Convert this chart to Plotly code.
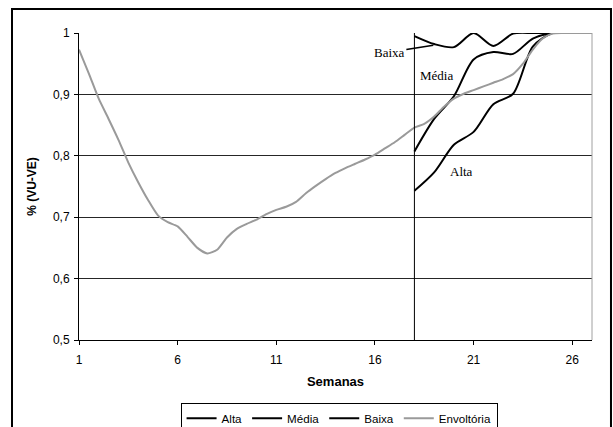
import plotly.graph_objects as go

# ---- data ----
env_weeks = [1.0, 1.5, 2.0, 2.5, 3.0, 3.5, 4.0, 4.5, 5.0, 5.5, 6.0, 6.5, 7.0, 7.5,
             8.0, 8.5, 9.0, 9.5, 10.0, 10.5, 11.0, 11.5, 12.0, 12.5, 13.0, 13.5,
             14.0, 14.5, 15.0, 15.5, 16.0, 16.5, 17.0, 17.5, 18.0, 18.5, 19.0,
             19.5, 20.0, 20.5, 21.0, 21.5, 22.0, 22.5, 23.0, 23.5, 24.0, 24.5,
             25.0, 25.5, 26.0, 26.5, 27.0]
envoltoria = [0.973, 0.934, 0.893, 0.860, 0.826, 0.789, 0.757, 0.728, 0.703, 0.692,
              0.685, 0.668, 0.650, 0.641, 0.647, 0.667, 0.681, 0.689, 0.696, 0.705,
              0.712, 0.717, 0.725, 0.739, 0.751, 0.762, 0.772, 0.780, 0.787, 0.794,
              0.802, 0.812, 0.822, 0.834, 0.846, 0.852, 0.864, 0.880, 0.893, 0.901,
              0.907, 0.913, 0.919, 0.925, 0.933, 0.950, 0.973, 0.991, 0.999, 1.0,
              1.0, 1.0, 1.0]

scen_weeks = [18, 19, 20, 21, 22, 23, 24, 25, 26, 27]
alta = [0.743, 0.773, 0.818, 0.839, 0.884, 0.901, 0.978, 1.0, 1.0, 1.0]
media = [0.807, 0.860, 0.897, 0.957, 0.969, 0.966, 0.991, 1.0, 1.0, 1.0]
baixa = [0.995, 0.982, 0.977, 1.0, 0.979, 0.999, 1.0, 1.0, 1.0, 1.0]

series_names = ["Alta", "Média", "Baixa", "Envoltória"]
x_ticks = [1, 6, 11, 16, 21, 26]
y_ticks = [0.5, 0.6, 0.7, 0.8, 0.9, 1.0]
y_ticktext = ["0,5", "0,6", "0,7", "0,8", "0,9", "1"]
split_week = 18

# ---- figure ----
fig = go.Figure()
black_line = dict(color="black", width=2, shape="spline", smoothing=0.8)
fig.add_trace(go.Scatter(x=scen_weeks, y=alta, mode="lines", name=series_names[0], line=black_line))
fig.add_trace(go.Scatter(x=scen_weeks, y=media, mode="lines", name=series_names[1], line=black_line))
fig.add_trace(go.Scatter(x=scen_weeks, y=baixa, mode="lines", name=series_names[2], line=black_line))
fig.add_trace(go.Scatter(x=env_weeks, y=envoltoria, mode="lines", name=series_names[3],
                         line=dict(color="#9a9a9a", width=2, shape="spline", smoothing=0.6)))

serif = "Liberation Serif"
fig.update_layout(
    width=613, height=427,
    margin=dict(l=79, r=21, t=33, b=87, autoexpand=False),
    paper_bgcolor="white", plot_bgcolor="white",
    font=dict(family="Liberation Sans", size=12, color="black"),
    showlegend=True,
    legend=dict(orientation="h", x=0.198, y=-0.204, xanchor="left", yanchor="top",
                bordercolor="black", borderwidth=1, font=dict(size=11.6),
                itemwidth=30, tracegroupgap=0),
    xaxis=dict(range=[1, 27], tickvals=x_ticks, ticks="outside", ticklen=4,
               tickcolor="black", showline=True, linecolor="black", linewidth=1,
               showgrid=False, zeroline=False, ticklabelstandoff=5,
               title=dict(text="<b>Semanas</b>", font=dict(size=13), standoff=10)),
    yaxis=dict(range=[0.5, 1.0], tickvals=y_ticks, ticktext=y_ticktext,
               ticks="outside", ticklen=4, tickcolor="black",
               showline=True, linecolor="black", linewidth=1,
               showgrid=True, gridcolor="#262626", gridwidth=1, zeroline=False,
               ticklabelstandoff=2,
               title=dict(text="<b>% (VU-VE)</b>", font=dict(size=12), standoff=13)),
    shapes=[
        dict(type="line", xref="x", yref="paper", x0=split_week, x1=split_week, y0=0, y1=1,
             line=dict(color="black", width=1)),
        dict(type="line", xref="paper", yref="paper", x0=1, x1=1, y0=0, y1=1,
             line=dict(color="#a0a0a0", width=1)),
        dict(type="rect", xref="paper", yref="paper", x0=-0.1306, x1=1.037, y0=-0.3, y1=1.078,
             line=dict(color="black", width=2)),
    ],
    annotations=[
        dict(x=18.96, y=0.980, xref="x", yref="y", text="Baixa", showarrow=True,
             arrowhead=0, arrowwidth=1.5, arrowcolor="black", ax=-44, ay=7, standoff=0,
             font=dict(family=serif, size=13)),
        dict(x=19.14, y=0.930, xref="x", yref="y", text="Média", showarrow=False,
             font=dict(family=serif, size=13)),
        dict(x=20.41, y=0.774, xref="x", yref="y", text="Alta", showarrow=False,
             font=dict(family=serif, size=13)),
    ],
)

fig.write_html("out.html", config={"displayModeBar": False},
               post_script="document.body.style.margin='0';")
